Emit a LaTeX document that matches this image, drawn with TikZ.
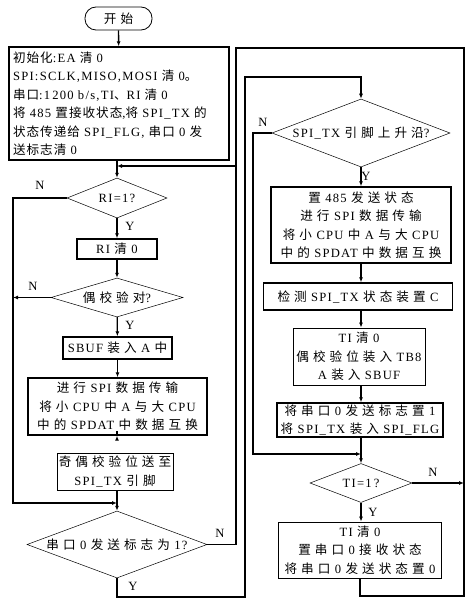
\documentclass[tikz,border=0pt]{standalone}
\usepackage{fontspec}
\setmainfont{Liberation Serif}[LetterSpace=10]
\newfontfamily\cjk{Noto Sans CJK SC}[LetterSpace=8]
\newfontfamily\cjkw{Noto Sans CJK SC}[LetterSpace=32]
\newcommand\zh[1]{{\cjk #1}}
\newcommand\zw[1]{{\cjkw #1}}
\usetikzlibrary{positioning, arrows.meta, shapes.geometric}

\begin{document}
\begin{tikzpicture}[
    x=1pt, y=-1pt,
    % Gaya dasar untuk semua node
    every node/.style={font=\fontsize{12.6}{18.5}\selectfont, inner sep=0pt},
    % Gaya untuk blok awal
    term_box/.style={
        draw,
        rounded corners=11pt,
        line width=0.8pt,
        minimum width=67pt,
        minimum height=23pt
    },
    % Gaya untuk kotak proses
    thick_box/.style={
        draw,
        rectangle,
        line width=1.4pt,
        align=center
    },
    thin_box/.style={
        draw,
        rectangle,
        line width=0.8pt,
        align=center
    },
    % Gaya untuk blok keputusan
    decision/.style={
        draw,
        diamond,
        line width=0.5pt
    },
    % Gaya untuk garis dan panah
    line/.style={
        line width=1.3pt
    },
    arrow/.style={
        -{Latex[length=5pt,width=4pt]},
        line width=1.3pt
    }
]
\useasboundingbox (0,0) rectangle (471,604);

% =====================================================================
% NODE KOLOM KIRI
% =====================================================================
\node (A) [term_box] at (118.5,18.5) {\zw{开始}};
\node (B) [thick_box, minimum width=220pt, minimum height=113pt, text width=212pt, align=left] at (119,103.5) {%
    \zh{初始化}:EA \zh{清} 0\\
    SPI:SCLK,MISO,MOSI \zh{清} 0\zh{。}\\
    \zh{串口}:1\,200 b/s,TI\zh{、}RI \zh{清} 0\\
    \zh{将} 485 \zh{置接收状态},\zh{将} SPI\_TX \zh{的}\\
    \zh{状态传递给} SPI\_FLG, \zh{串口} 0 \zh{发}\\
    \zh{送标志清} 0};
\node (C) [decision, minimum width=100pt, minimum height=40pt, label=center:{RI=1?}] at (117,198) {};
\node (D) [thick_box, minimum width=80pt, minimum height=20pt] at (117,249) {RI \zw{清} 0};
\node (E) [decision, minimum width=132pt, minimum height=39pt, label=center:{\zw{偶校验对}?}] at (117,297.5) {};
\node (F) [thick_box, minimum width=109pt, minimum height=22pt] at (117.5,348) {SBUF \zw{装入} A \zw{中}};
\node (G) [thick_box, minimum width=179pt, minimum height=57pt] at (117.5,406.5) {%
    \zw{进行} SPI \zw{数据传输}\\
    \zw{将小} CPU \zw{中} A \zw{与大} CPU\\
    \zw{中的} SPDAT \zw{中数据互换}};
\node (H) [thin_box, minimum width=116pt, minimum height=37pt] at (115,471.5) {%
    \zw{奇偶校验位送至}\\
    SPI\_TX \zw{引脚}};
\node (I) [decision, minimum width=180pt, minimum height=67pt, label=center:{\zw{串口} 0 \zw{发送标志为} 1?}] at (117,544.5) {};

% =====================================================================
% NODE KOLOM KANAN
% =====================================================================
\node (J) [decision, minimum width=178pt, minimum height=68pt, label=center:{SPI\_TX \zw{引脚上升沿}?}] at (361,133) {};
\node (K) [thick_box, minimum width=180pt, minimum height=76pt] at (361,225) {%
    \zw{置} 485 \zw{发送状态}\\
    \zw{进行} SPI \zw{数据传输}\\
    \zw{将小} CPU \zw{中} A \zw{与大} CPU\\
    \zw{中的} SPDAT \zw{中数据互换}};
\node (L) [thick_box, minimum width=189pt, minimum height=27pt] at (358,296.5) {\zw{检测} SPI\_TX \zw{状态装置} C};
\node (M) [thin_box, minimum width=132pt, minimum height=57pt] at (359,356.5) {%
    TI \zw{清} 0\\
    \zw{偶校验位装入} TB8\\
    A \zw{装入} SBUF};
\node (N) [thick_box, minimum width=166pt, minimum height=34pt] at (360,420) {%
    \zw{将串口} 0 \zw{发送标志置} 1\\
    \zw{将} SPI\_TX \zw{装入} SPI\_FLG};
\node (O) [decision, minimum width=102pt, minimum height=39pt, label=center:{TI=1\,?}] at (361,483) {};
\node (P) [thin_box, minimum width=163pt, minimum height=56pt] at (360,550) {%
    TI \zw{清} 0\\
    \zw{置串口} 0 \zw{接收状态}\\
    \zw{将串口} 0 \zw{发送状态置} 0};

% label Y / N
\node (nC) at (40,185) {N};
\node (yC) at (130,226) {Y};
\node (nE) at (33,286) {N};
\node (yE) at (130,325) {Y};
\node (nI) at (220,533) {N};
\node (yI) at (133,586) {Y};
\node (nJ) at (263,122) {N};
\node (yJ) at (366,176) {Y};
\node (nO) at (433,472) {N};
\node (yO) at (373,512) {Y};

% titik belok
\coordinate (r1) at (464,48);
\coordinate (r2) at (236,48);
\coordinate (j1) at (236,166);
\coordinate (r3) at (464,596);
\coordinate (l1) at (13,503);
\coordinate (b1) at (245,597);
\coordinate (b2) at (245,77);
\coordinate (n2) at (253,454);

% =====================================================================
% KONEKSI PANAH / ALUR
% =====================================================================
\draw [arrow] (A) -- (B);
\draw [arrow] (B.south -| C.north) -- (C.north);
\draw [arrow] (C) -- (D);
\draw [arrow] (D) -- (E);
\draw [arrow] (E) -- (F);
\draw [arrow] (F.south) -- (F.south |- G.north);
\draw [arrow] (G.south -| I.north) -- (G.south -| I.north |- H.north);
\draw [arrow] (H.south -| I.north) -- (I.north);

\draw [arrow] (C.west) -| (l1) -- (l1 -| I.north);
\draw [arrow] (E.west) -- (E.west -| l1);
\draw [line] (I.east) -| (j1);
\draw [arrow] (I.south) |- (b1) -- (b2) -| (J.north);

\draw [arrow] (J) -- (K);
\draw [arrow] (K.south) -- (K.south |- L.north);
\draw [arrow] (K.south |- L.south) -- (K.south |- M.north);
\draw [arrow] (K.south |- M.south) -- (K.south |- N.north);
\draw [arrow] (K.south |- N.south) -- (O.north);
\draw [arrow] (J.west) -| (n2) -- (n2 -| O.north);
\draw [arrow] (O) -- (O |- P.north);
\draw [arrow] (O.east) -- (O.east -| r1);

\draw [arrow] (P.south) |- (r3) -- (r1) -- (r2) -- (j1) -- (j1 -| C.north);

\end{tikzpicture}
\end{document}
